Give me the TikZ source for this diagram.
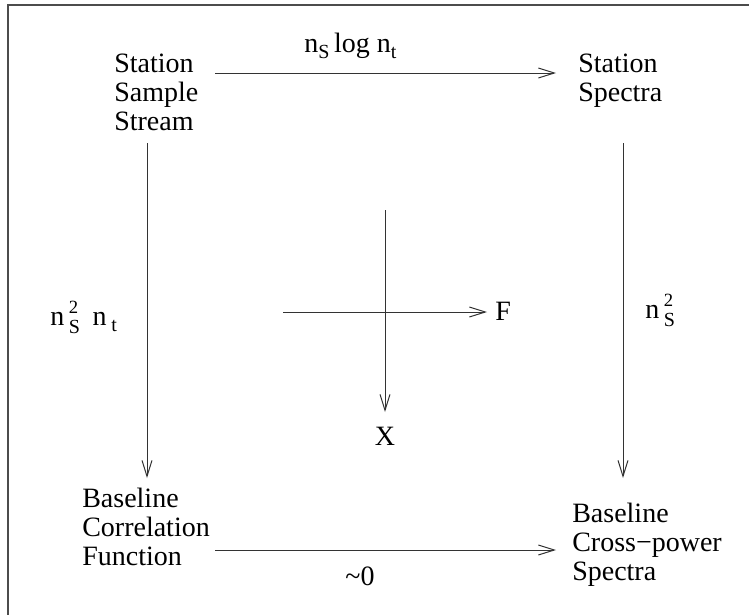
\documentclass[tikz,border=0pt]{standalone}
\usepackage{fontspec}
\setmainfont{Liberation Serif}
\usetikzlibrary{arrows.meta}
\newcommand\subsc[1]{\raisebox{-4.5pt}{\fontsize{15}{15}\selectfont #1}}
\newcommand\stackSt{\makebox[0pt][l]{\raisebox{-6pt}{\fontsize{15}{15}\selectfont S}}\raisebox{9pt}{\fontsize{14}{14}\selectfont 2}\hspace{2pt}}
\tikzset{
  lbl/.style={font=\fontsize{21}{21.4}\selectfont, inner sep=0pt, align=left, text=black},
  conn/.style={draw=black!80, line width=0.75pt, -{Straight Barb[length=12pt,width=7.5pt]}},
  frame/.style={draw=black!70, line width=1.5pt}
}
\begin{document}
\begin{tikzpicture}[x=0.75pt, y=-0.75pt]
\useasboundingbox (0,0) rectangle (749,615);
\fill[white] (0,0) rectangle (749,615);
% frame (only top and left edges visible)
\coordinate (f0) at (8,5);
\coordinate (f1) at (749,5);
\coordinate (f2) at (8,615);
\draw[frame] (f1) -- (f0) -- (f2);
% text blocks (anchor at baseline of last line)
\node[lbl, anchor=base west] (tl) at (114,130) {Station\\Sample\\Stream};
\node[lbl, anchor=base west] (tr) at (578,101) {Station\\Spectra};
\node[lbl, anchor=base west] (bl) at (82,565) {Baseline\\Correlation\\Function};
\node[lbl, anchor=base west] (br) at (572,580) {Baseline\\Cross−power\\Spectra};
% arrow end points
\coordinate (a1s) at (215,73);
\coordinate (a1e) at (556,73);
\coordinate (a2s) at (215,550);
\coordinate (a2e) at (556,550);
\coordinate (v1s) at (147,143);
\coordinate (v1e) at (147,478);
\coordinate (v2s) at (623,143);
\coordinate (v2e) at (623,478);
\coordinate (ch1) at (283,312);
\coordinate (ch2) at (487,312);
\coordinate (cv1) at (385,210);
\coordinate (cv2) at (385,412);
\draw[conn] (a1s) -- (a1e);
\draw[conn] (a2s) -- (a2e);
\draw[conn] (v1s) -- (v1e);
\draw[conn] (v2s) -- (v2e);
\draw[conn] (ch1) -- (ch2);
\draw[conn] (cv1) -- (cv2);
% labels
\node[lbl, anchor=base west] (ltop) at (304,52) {n\subsc{S}\,log n\subsc{t}};
\node[lbl, anchor=base west] (lleft) at (50,325) {n\,\stackSt\ \,n\,\subsc{t}};
\node[lbl, anchor=base west] (lright) at (645,318) {n\,\stackSt};
\node[lbl, anchor=base] (lbot) at (360,585) {\char"7E 0};
\node[lbl, anchor=base west] (lF) at (495,320) {F};
\node[lbl, anchor=base] (lX) at (385,445) {X};
\end{tikzpicture}
\end{document}
